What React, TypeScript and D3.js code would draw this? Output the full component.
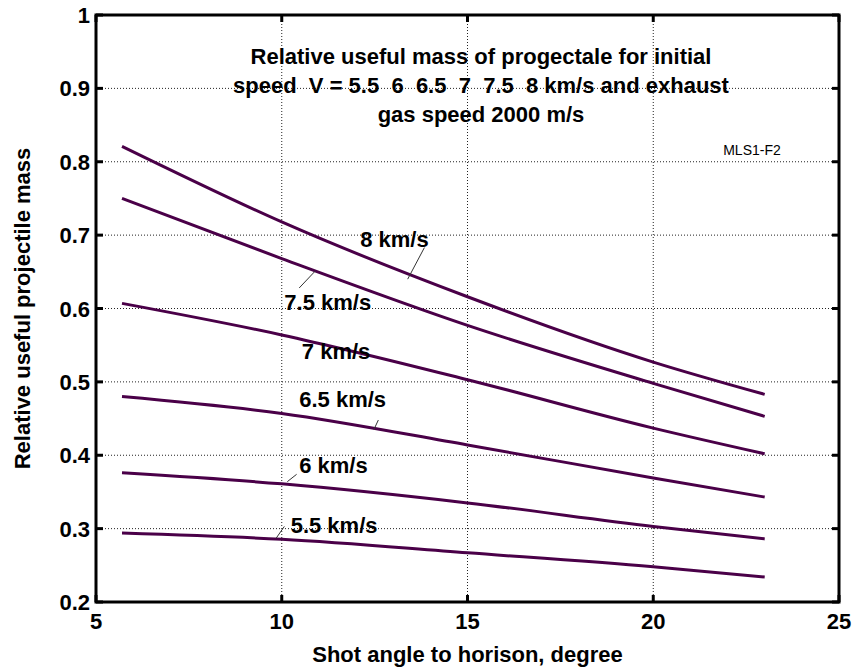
import React from "react";
import * as d3 from "d3";

const angles = [5.7, 10, 15, 20, 23];
const speedNames = ["8 km/s", "7.5 km/s", "7 km/s", "6.5 km/s", "6 km/s", "5.5 km/s"];
const mass8 = [0.821, 0.718, 0.616, 0.527, 0.483];
const mass75 = [0.750, 0.668, 0.577, 0.498, 0.453];
const mass7 = [0.607, 0.564, 0.503, 0.437, 0.402];
const mass65 = [0.480, 0.457, 0.414, 0.369, 0.343];
const mass6 = [0.376, 0.361, 0.335, 0.303, 0.286];
const mass55 = [0.294, 0.2855, 0.267, 0.248, 0.234];
const seriesValues = [mass8, mass75, mass7, mass65, mass6, mass55];

const xTicks = [5, 10, 15, 20, 25];
const yTicks = [0.2, 0.3, 0.4, 0.5, 0.6, 0.7, 0.8, 0.9, 1];
const yTickLabels = ["0.2", "0.3", "0.4", "0.5", "0.6", "0.7", "0.8", "0.9", "1"];

// label anchor (angle, mass) and leader line endpoints
const labelX = [12.11, 10.07, 10.54, 10.47, 10.47, 10.24];
const labelY = [0.684, 0.598, 0.531, 0.466, 0.376, 0.294];
const leaderFrom = [[13.84, 0.683], [10.47, 0.628], null, [12.48, 0.435], [10.15, 0.364], [9.85, 0.287]];
const leaderTo = [[13.39, 0.64], [10.9, 0.651], null, [12.6, 0.448], [10.4, 0.374], [10.07, 0.303]];

const titleLines = [
  "Relative useful mass of progectale for initial",
  "speed  V = 5.5  6  6.5  7  7.5  8 km/s and exhaust",
  "gas speed 2000 m/s",
];

export default function App() {
  const W = 854, H = 671;
  const left = 96, right = 839, top = 15, bottom = 602;
  const x = d3.scaleLinear().domain([5, 25]).range([left, right]);
  const y = d3.scaleLinear().domain([0.2, 1]).range([bottom, top]);
  const line = d3
    .line<[number, number]>()
    .x((d) => x(d[0]))
    .y((d) => y(d[1]))
    .curve(d3.curveMonotoneX);
  const font = "'Liberation Sans', Arial, Helvetica, sans-serif";
  const color = "#4a0048";
  const fs = 22;
  return (
    <svg width={W} height={H} style={{ position: "absolute", left: 0, top: 0, background: "#fff" }} fontFamily={font}>
      <rect x={0} y={0} width={W} height={H} fill="#fff" />
      {/* grid */}
      {xTicks.slice(1, -1).map((t) => (
        <line key={"gx" + t} x1={x(t)} x2={x(t)} y1={top} y2={bottom} stroke="#222" strokeWidth={1} strokeDasharray="1 2" />
      ))}
      {yTicks.slice(1, -1).map((t) => (
        <line key={"gy" + t} x1={left} x2={right} y1={y(t)} y2={y(t)} stroke="#222" strokeWidth={1} strokeDasharray="1 2" />
      ))}
      {/* series */}
      {seriesValues.map((vals, i) => (
        <path
          key={"s" + i}
          d={line(angles.map((a, j) => [a, vals[j]] as [number, number])) || ""}
          fill="none"
          stroke={color}
          strokeWidth={3}
          strokeLinecap="butt"
        />
      ))}
      {/* leaders */}
      {leaderFrom.map((f, i) =>
        f && leaderTo[i] ? (
          <line key={"ld" + i} x1={x(f[0])} y1={y(f[1])} x2={x(leaderTo[i]![0])} y2={y(leaderTo[i]![1])} stroke="#333" strokeWidth={1} />
        ) : null
      )}
      {/* labels */}
      {speedNames.map((n, i) => (
        <text key={"lb" + i} x={x(labelX[i])} y={y(labelY[i])} fontSize={fs} fontWeight="bold" fill="#000">
          {n}
        </text>
      ))}
      {/* title */}
      {titleLines.map((t, i) => (
        <text key={"t" + i} x={481} y={64 + i * 29} textAnchor="middle" fontSize={fs} fontWeight="bold" fill="#000" style={{ whiteSpace: "pre" }}>
          {t}
        </text>
      ))}
      <text x={752} y={155} textAnchor="middle" fontSize={14} fill="#000">MLS1-F2</text>
      {/* axes box */}
      <rect x={left} y={top} width={right - left} height={bottom - top} fill="none" stroke="#000" strokeWidth={3} />
      {/* ticks */}
      {xTicks.map((t) => (
        <g key={"xt" + t}>
          <line x1={x(t)} x2={x(t)} y1={bottom} y2={bottom - 7} stroke="#000" strokeWidth={3} />
          <line x1={x(t)} x2={x(t)} y1={top} y2={top + 7} stroke="#000" strokeWidth={3} />
          <text x={x(t)} y={bottom + 27} textAnchor="middle" fontSize={fs} fontWeight="bold">{t}</text>
        </g>
      ))}
      {yTicks.map((t, i) => (
        <g key={"yt" + t}>
          <line x1={left} x2={left + 7} y1={y(t)} y2={y(t)} stroke="#000" strokeWidth={3} />
          <line x1={right} x2={right - 7} y1={y(t)} y2={y(t)} stroke="#000" strokeWidth={3} />
          <text x={left - 6} y={y(t) + 8} textAnchor="end" fontSize={fs} fontWeight="bold">{yTickLabels[i]}</text>
        </g>
      ))}
      <text x={(left + right) / 2} y={662} textAnchor="middle" fontSize={fs} fontWeight="bold">Shot angle to horison, degree</text>
      <text transform={`translate(30, ${(top + bottom) / 2}) rotate(-90)`} textAnchor="middle" fontSize={fs} fontWeight="bold">Relative useful projectile mass</text>
    </svg>
  );
}
